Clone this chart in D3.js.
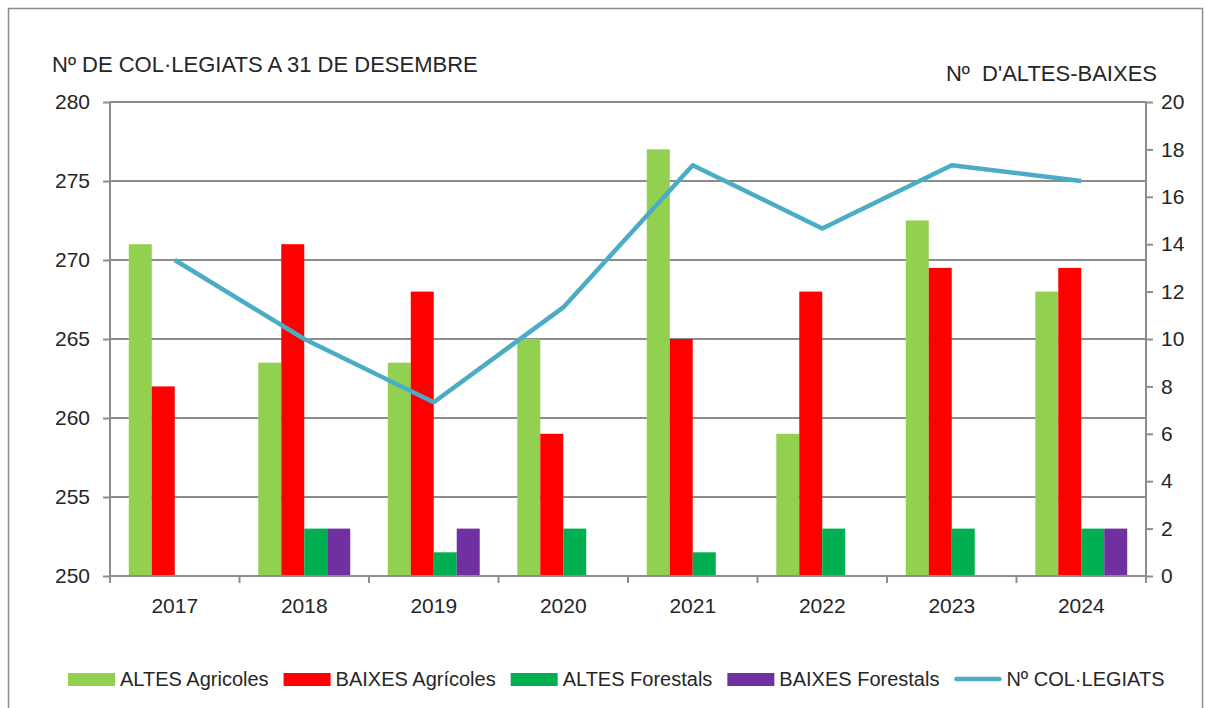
<!DOCTYPE html>
<html>
<head>
<meta charset="utf-8">
<script src="https://cdn.jsdelivr.net/npm/d3@7"></script>
<style>
  body { margin: 0; background: #fff; }
  text { font-family: "Liberation Sans", Arial, sans-serif; fill: #262626; white-space: pre; }
</style>
</head>
<body>
<div id="chart"></div>
<script>
const years = ['2017', '2018', '2019', '2020', '2021', '2022', '2023', '2024'];
const seriesNames = ['ALTES Agricoles', 'BAIXES Agrícoles', 'ALTES Forestals', 'BAIXES Forestals'];
const altesAgricoles = [14, 9, 9, 10, 18, 6, 15, 12];
const baixesAgricoles = [8, 14, 12, 6, 10, 12, 13, 13];
const altesForestals = [0, 2, 1, 2, 1, 2, 2, 2];
const baixesForestals = [0, 2, 2, 0, 0, 0, 0, 2];
const colegiats = [270, 265, 261, 267, 276, 272, 276, 275];
const lineName = 'Nº COL·LEGIATS';
const leftTicks = [250, 255, 260, 265, 270, 275, 280];
const rightTicks = [0, 2, 4, 6, 8, 10, 12, 14, 16, 18, 20];

const colors = ['#92D050', '#FF0000', '#00B050', '#7030A0'];
const lineColor = '#4BACC6';
const gridColor = '#8C8C8C';

const config = { width: 1206, height: 708, left: 110, right: 60, top: 102, bottom: 132 };
const innerW = config.width - config.left - config.right;
const innerH = config.height - config.top - config.bottom;

const svg = d3.select('#chart').append('svg')
  .attr('width', config.width)
  .attr('height', config.height);

// outer frame
svg.append('rect')
  .attr('x', 8.5).attr('y', 8.5)
  .attr('width', config.width - 12).attr('height', config.height - 6)
  .attr('fill', 'none').attr('stroke', '#8C8C8C').attr('stroke-width', 1.5);

const g = svg.append('g').attr('transform', `translate(${config.left},${config.top})`);

const x0 = d3.scaleBand().domain(years).range([0, innerW]).paddingInner(0.29).paddingOuter(0.145);
const x1 = d3.scaleBand().domain(seriesNames).range([0, x0.bandwidth()]);
const xStep = d3.scaleBand().domain(years).range([0, innerW]);
const yLeft = d3.scaleLinear().domain([250, 280]).range([innerH, 0]);
const yRight = d3.scaleLinear().domain([0, 20]).range([innerH, 0]);

// gridlines
g.append('g').selectAll('line').data(leftTicks).join('line')
  .attr('x1', 0).attr('x2', innerW)
  .attr('y1', d => yLeft(d)).attr('y2', d => yLeft(d))
  .attr('stroke', gridColor).attr('stroke-width', 2);

// bars
const seriesData = [altesAgricoles, baixesAgricoles, altesForestals, baixesForestals];
seriesNames.forEach((name, i) => {
  g.append('g').selectAll('rect').data(seriesData[i]).join('rect')
    .attr('x', (d, j) => x0(years[j]) + x1(name))
    .attr('width', x1.bandwidth())
    .attr('y', d => yRight(d))
    .attr('height', d => innerH - yRight(d))
    .attr('fill', colors[i]);
});

// line
const line = d3.line()
  .x((d, i) => x0(years[i]) + x0.bandwidth() / 2)
  .y(d => yLeft(d));
g.append('path').datum(colegiats)
  .attr('d', line)
  .attr('fill', 'none')
  .attr('stroke', lineColor)
  .attr('stroke-width', 4.5)
  .attr('stroke-linejoin', 'round');

// axes
const leftAxis = g.append('g')
  .call(d3.axisLeft(yLeft).tickValues(leftTicks).tickSize(7).tickPadding(13));
const rightAxis = g.append('g').attr('transform', `translate(${innerW},0)`)
  .call(d3.axisRight(yRight).tickValues(rightTicks).tickSize(7).tickPadding(8));
const bottomAxis = g.append('g').attr('transform', `translate(0,${innerH})`)
  .call(d3.axisBottom(xStep).tickSize(0).tickPadding(22));

[leftAxis, rightAxis, bottomAxis].forEach(a => {
  a.selectAll('path.domain').attr('stroke', gridColor).attr('stroke-width', 2);
  a.selectAll('.tick line').attr('stroke', gridColor).attr('stroke-width', 2);
  a.selectAll('text').style('font-family', '"Liberation Sans", Arial, sans-serif')
    .style('font-size', '21px').attr('fill', '#262626');
});
rightAxis.select('path.domain').attr('d', `M0,0V${innerH}`);
leftAxis.select('path.domain').attr('d', `M0,0V${innerH}`);
bottomAxis.select('path.domain').attr('d', `M0,0H${innerW}`);

// category ticks on the x axis at band boundaries
g.append('g').selectAll('line').data(d3.range(years.length + 1)).join('line')
  .attr('x1', d => d * xStep.step()).attr('x2', d => d * xStep.step())
  .attr('y1', innerH).attr('y2', innerH + 7)
  .attr('stroke', gridColor).attr('stroke-width', 2);

// titles
svg.append('text')
  .attr('x', 52).attr('y', 72)
  .style('font-size', '22px')
  .text('Nº DE COL·LEGIATS A 31 DE DESEMBRE');
svg.append('text')
  .attr('x', 1157).attr('y', 81)
  .attr('text-anchor', 'end')
  .style('font-size', '22px')
  .text('Nº  D\'ALTES-BAIXES');

// legend
const legendItems = seriesNames.map((n, i) => ({ name: n, color: colors[i], type: 'rect' }))
  .concat([{ name: lineName, color: lineColor, type: 'line' }]);
const legend = svg.append('g').attr('transform', 'translate(0,679)');
let lx = 68;
legendItems.forEach(item => {
  const it = legend.append('g').attr('transform', `translate(${lx},0)`);
  if (item.type === 'rect') {
    it.append('rect').attr('x', 0).attr('y', -6).attr('width', 47).attr('height', 13).attr('fill', item.color);
  } else {
    it.append('line').attr('x1', 2).attr('x2', 45).attr('y1', 0).attr('y2', 0)
      .attr('stroke', item.color).attr('stroke-width', 4.5).attr('stroke-linecap', 'round');
  }
  const t = it.append('text').attr('x', 52).attr('y', 7).style('font-size', '20px').text(item.name);
  lx += 52 + t.node().getComputedTextLength() + 15;
});
</script>
</body>
</html>
